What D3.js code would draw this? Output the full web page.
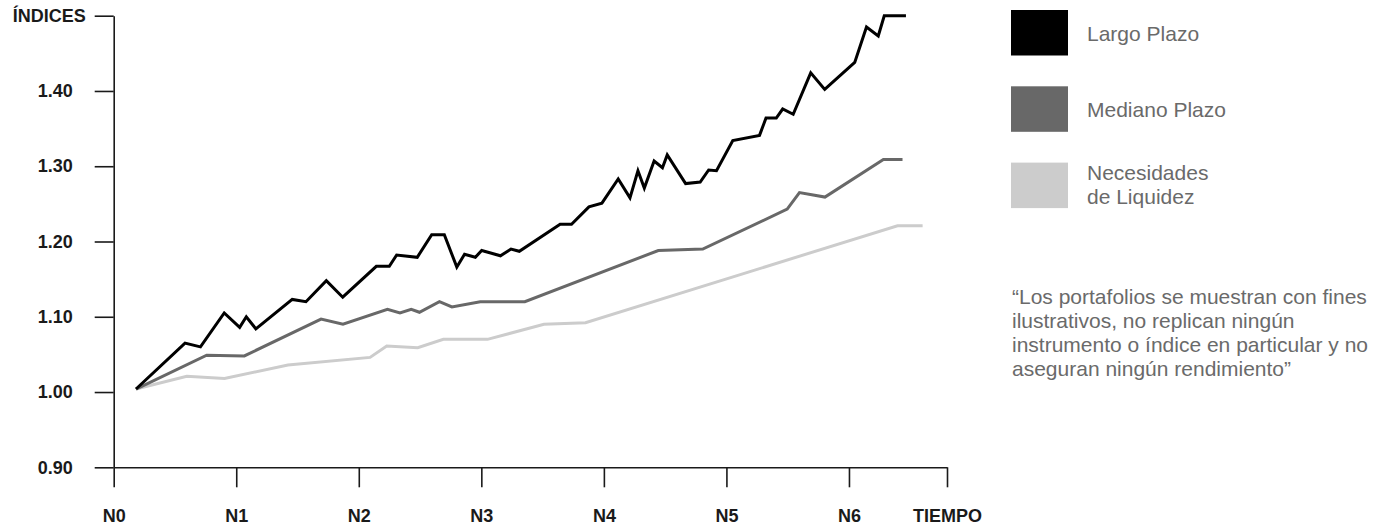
<!DOCTYPE html>
<html>
<head>
<meta charset="utf-8">
<script src="https://cdn.jsdelivr.net/npm/d3@7"></script>
<style>
  html, body { margin: 0; padding: 0; background: #fff; }
  svg { display: block; font-family: "Liberation Sans", Arial, sans-serif; }
</style>
</head>
<body>
<svg id="chart" width="1388" height="528"></svg>
<script>
// Time positions (in N periods) and index values for each portfolio
const largoT = [0.182, 0.582, 0.708, 0.902, 1.028, 1.082, 1.160, 1.457, 1.569, 1.735, 1.869,
  2.143, 2.249, 2.309, 2.477, 2.595, 2.698, 2.800, 2.863, 2.951, 3.003, 3.156, 3.242, 3.310,
  3.643, 3.736, 3.878, 3.984, 4.117, 4.213, 4.278, 4.330, 4.410, 4.478, 4.517, 4.667, 4.786,
  4.855, 4.919, 5.052, 5.270, 5.323, 5.407, 5.459, 5.545, 5.688, 5.802, 6.047, 6.143, 6.239,
  6.288, 6.465];
const largoV = [1.004, 1.065, 1.060, 1.105, 1.086, 1.100, 1.084, 1.123, 1.120, 1.148, 1.126,
  1.167, 1.167, 1.182, 1.179, 1.209, 1.209, 1.166, 1.183, 1.179, 1.188, 1.181, 1.190, 1.187,
  1.223, 1.223, 1.246, 1.251, 1.283, 1.258, 1.294, 1.271, 1.307, 1.298, 1.315, 1.277, 1.279,
  1.295, 1.294, 1.334, 1.341, 1.364, 1.364, 1.376, 1.369, 1.424, 1.402, 1.438, 1.485, 1.473,
  1.500, 1.500];

const medianoT = [0.182, 0.759, 1.066, 1.692, 1.871, 2.234, 2.336, 2.428, 2.495, 2.658, 2.760,
  2.991, 3.355, 4.444, 4.807, 5.496, 5.596, 5.804, 6.281, 6.437];
const medianoV = [1.004, 1.049, 1.048, 1.097, 1.090, 1.110, 1.105, 1.110, 1.106, 1.120, 1.113,
  1.120, 1.120, 1.188, 1.190, 1.243, 1.265, 1.259, 1.309, 1.309];

const liquidezT = [0.182, 0.596, 0.904, 1.422, 2.092, 2.228, 2.481, 2.690, 3.050, 3.511, 3.850,
  6.396, 6.601];
const liquidezV = [1.004, 1.021, 1.018, 1.036, 1.046, 1.061, 1.059, 1.070, 1.070, 1.090, 1.092,
  1.221, 1.221];

const seriesNames = ["Largo Plazo", "Mediano Plazo", "Necesidades de Liquidez"];
const seriesColors = ["#000000", "#686868", "#cccccc"];

const xTickValues = [0, 1, 2, 3, 4, 5, 6, 6.8];
const xTickLabels = ["N0", "N1", "N2", "N3", "N4", "N5", "N6", "TIEMPO"];
const yTickValues = [0.9, 1.0, 1.1, 1.2, 1.3, 1.4, 1.5];
const yTickLabels = ["0.90", "1.00", "1.10", "1.20", "1.30", "1.40", "ÍNDICES"];

const disclaimer = [
  "\u201cLos portafolios se muestran con fines",
  "ilustrativos, no replican ningún",
  "instrumento o índice en particular y no",
  "aseguran ningún rendimiento\u201d"
];

const svg = d3.select("#chart");

const x = d3.scaleLinear().domain([0, 6.8]).range([113.7, 947]);
const y = d3.scaleLinear().domain([0.9, 1.5]).range([467.3, 15.7]);

// Axes
const axisColor = "#1a1a1a";

const yAxis = d3.axisLeft(y)
  .tickValues(yTickValues)
  .tickFormat((d, i) => yTickLabels[i])
  .tickSize(19)
  .tickSizeOuter(0)
  .tickPadding(22);

const gy = svg.append("g").attr("transform", `translate(${x(0)},0)`).call(yAxis);

const xAxis = d3.axisBottom(x)
  .tickValues(xTickValues)
  .tickFormat((d, i) => xTickLabels[i])
  .tickSize(20)
  .tickSizeOuter(0)
  .tickPadding(22);

const gx = svg.append("g").attr("transform", `translate(0,${y(0.9)})`).call(xAxis);

[gx, gy].forEach(g => {
  g.selectAll("path.domain, line").attr("stroke", axisColor).attr("stroke-width", 1.6);
  g.selectAll("text")
    .attr("fill", "#1a1a1a")
    .style("font-size", "18px")
    .style("font-weight", "bold")
    .style("font-family", "'Liberation Sans', Arial, sans-serif");
});

// Top label of the value axis sits closer to its tick
gy.selectAll(".tick").filter(d => d === 1.5).select("text").attr("x", -28);

// Series lines
const line = d3.line()
  .x(d => x(d[0]))
  .y(d => y(d[1]));

const series = [
  d3.zip(largoT, largoV),
  d3.zip(medianoT, medianoV),
  d3.zip(liquidezT, liquidezV)
];

[2, 1, 0].forEach(i => {
  svg.append("path")
    .datum(series[i])
    .attr("fill", "none")
    .attr("stroke", seriesColors[i])
    .attr("stroke-width", 3)
    .attr("stroke-linejoin", "miter")
    .attr("stroke-miterlimit", 4)
    .attr("d", line);
});

// Legend
const legend = svg.append("g").attr("transform", "translate(1011,10)");
const legendLines = [["Largo Plazo"], ["Mediano Plazo"], ["Necesidades", "de Liquidez"]];
const legendTextY = [[30.7], [106.7], [170, 194]];

seriesNames.forEach((name, i) => {
  legend.append("rect")
    .attr("x", 0)
    .attr("y", i * 76.3)
    .attr("width", 57)
    .attr("height", 45.5)
    .attr("fill", seriesColors[i]);
  legendLines[i].forEach((t, j) => {
    legend.append("text")
      .attr("x", 76)
      .attr("y", legendTextY[i][j])
      .attr("fill", "#6a6a6a")
      .style("font-size", "21px")
      .text(t);
  });
});

// Note
const note = svg.append("text")
  .attr("x", 1012)
  .attr("y", 304)
  .attr("fill", "#6a6a6a")
  .style("font-size", "21px");
disclaimer.forEach((t, i) => {
  note.append("tspan")
    .attr("x", 1012)
    .attr("y", 304 + i * 24)
    .text(t);
});
</script>
</body>
</html>
